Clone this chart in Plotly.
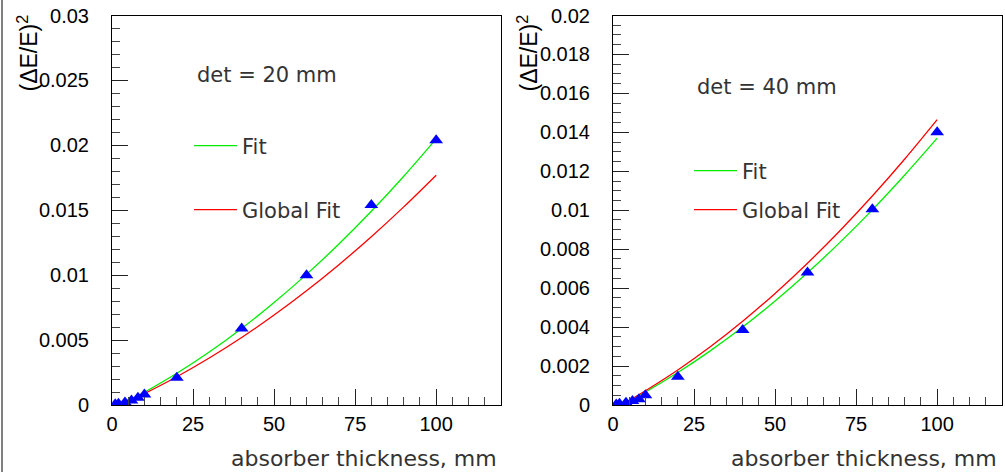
import plotly.graph_objects as go

W, H = 1005, 472

# ---------------- data ----------------
thickness = [1, 2, 4, 6, 8, 10, 20, 40, 60, 80, 100]
res_det20 = [0.00005, 0.0001, 0.0002, 0.00035, 0.00055, 0.0008, 0.0021, 0.0059, 0.0100, 0.0154, 0.0204]
res_det40 = [0.00003, 0.00006, 0.00012, 0.0002, 0.0003, 0.0005, 0.00145, 0.00385, 0.0068, 0.01005, 0.0140]

fit_x = [2.5, 5, 10, 20, 30, 40, 50, 60, 70, 80, 90, 100]
fit20 = [0.0, 0.00032, 0.00098, 0.00244, 0.00408, 0.0059, 0.00789, 0.01006, 0.0124, 0.01492, 0.01762, 0.0205]
gfit20 = [0.0, 0.00028, 0.00088, 0.00218, 0.00362, 0.0052, 0.00693, 0.0088, 0.01081, 0.01296, 0.01526, 0.0177]
fit40 = [0.0, 0.00022, 0.00067, 0.00167, 0.00278, 0.0040, 0.00534, 0.00679, 0.00835, 0.01002, 0.01181, 0.0137]
gfit40 = [0.0, 0.00023, 0.00073, 0.0018, 0.00299, 0.0043, 0.00573, 0.00728, 0.00895, 0.01073, 0.01263, 0.01465]

x_ticks = [0, 25, 50, 75, 100]
det_labels = ["det = 20 mm", "det = 40 mm"]
x_title = "absorber thickness, mm"
y_title = "(ΔE/E)<sup>2</sup>"


def px(x):
    return x / W


def py(y):
    return 1 - y / H


GREEN = "#00ee00"
RED = "#ff0000"
BLUE = "#0000ff"
TXT = "DejaVu Sans"
NUM = "Liberation Sans, Arial"

fig = go.Figure()

panels = [
    dict(xa="x", ya="y", ys=res_det20, fit=fit20, gfit=gfit20, leg=("legend", "legend2")),
    dict(xa="x2", ya="y2", ys=res_det40, fit=fit40, gfit=gfit40, leg=("legend3", "legend4")),
]

for p in panels:
    fig.add_trace(go.Scatter(x=fit_x, y=p["fit"], mode="lines", name="Fit",
                             line=dict(color=GREEN, width=1.3, shape="spline"),
                             xaxis=p["xa"], yaxis=p["ya"], legend=p["leg"][0]))
    fig.add_trace(go.Scatter(x=fit_x, y=p["gfit"], mode="lines", name="Global Fit",
                             line=dict(color=RED, width=1.3, shape="spline"),
                             xaxis=p["xa"], yaxis=p["ya"], legend=p["leg"][1]))
    fig.add_trace(go.Scatter(x=thickness, y=p["ys"], mode="markers", showlegend=False,
                             marker=dict(symbol="triangle-up", size=12, color=BLUE),
                             xaxis=p["xa"], yaxis=p["ya"]))

ydom = [py(405), py(15.5)]

common_x = dict(range=[0, 120], tickvals=x_ticks, ticks="inside", ticklen=16, tickcolor="#222",
                showline=True, linecolor="#000", linewidth=1, mirror=True, showgrid=False,
                zeroline=False, tickfont=dict(family=NUM, size=20, color="#000"),
                minor=dict(dtick=5, ticks="inside", ticklen=8, tickcolor="#444", showgrid=False),
                ticklabelstandoff=1, automargin=False)
common_y = dict(ticks="inside", ticklen=16, tickcolor="#222",
                showline=True, linecolor="#000", linewidth=1, mirror=True, showgrid=False,
                zeroline=False, tickfont=dict(family=NUM, size=20, color="#000"),
                ticklabelstandoff=18, automargin=False)

fig.update_layout(
    width=W, height=H, margin=dict(l=0, r=0, t=0, b=0, autoexpand=False),
    paper_bgcolor="white", plot_bgcolor="white",
    xaxis=dict(domain=[px(112), px(501)], anchor="y", **common_x),
    xaxis2=dict(domain=[px(613), px(1002)], anchor="y2", **common_x),
    yaxis=dict(domain=ydom, anchor="x", range=[0, 0.03], dtick=0.005,
               minor=dict(dtick=0.001, ticks="inside", ticklen=8, tickcolor="#444", showgrid=False),
               **common_y),
    yaxis2=dict(domain=ydom, anchor="x2", range=[0, 0.02], dtick=0.002,
                minor=dict(dtick=0.0005, ticks="inside", ticklen=8, tickcolor="#444", showgrid=False),
                **common_y),
)

leg_common = dict(xanchor="left", yanchor="middle", bgcolor="rgba(0,0,0,0)", borderwidth=0,
                  itemwidth=43, font=dict(family=TXT, size=21, color="#333"))
fig.update_layout(
    legend=dict(x=px(189), y=py(146), **leg_common),
    legend2=dict(x=px(189), y=py(210), **leg_common),
    legend3=dict(x=px(689), y=py(171), **leg_common),
    legend4=dict(x=px(689), y=py(210), **leg_common),
)

# texts
for xl, yl, lab in [(195, 75, det_labels[0]), (695, 87, det_labels[1])]:
    fig.add_annotation(x=px(xl), y=py(yl), xref="paper", yref="paper", text=lab, showarrow=False,
                       xanchor="left", yanchor="middle", font=dict(family=TXT, size=21, color="#333"))

for xr in (499, 999):
    fig.add_annotation(x=px(xr), y=py(458), xref="paper", yref="paper", text=x_title, showarrow=False,
                       xanchor="right", yanchor="middle", font=dict(family=TXT, size=22, color="#333"))

for xt in (27, 527):
    fig.add_annotation(x=px(xt), y=py(13), xref="paper", yref="paper", text=y_title, showarrow=False,
                       textangle=-90, xanchor="center", yanchor="top",
                       font=dict(family=NUM, size=23, color="#000"))

# canvas left border
fig.add_shape(type="line", xref="paper", yref="paper", x0=px(2), x1=px(2), y0=0, y1=1,
              line=dict(color="#000", width=1))

fig.write_html("out.html")
